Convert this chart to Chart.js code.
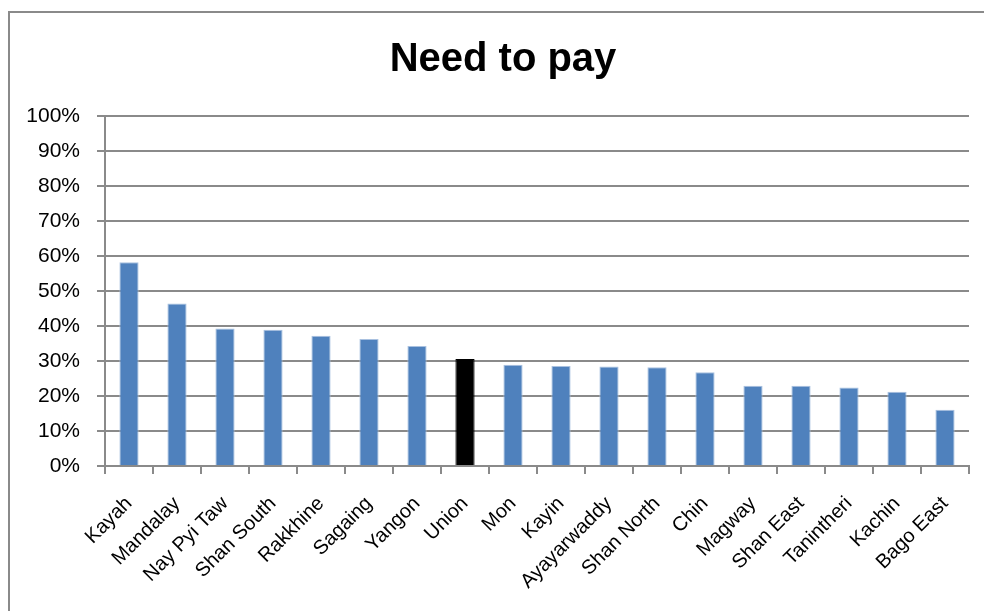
<!DOCTYPE html>
<html>
<head>
<meta charset="utf-8">
<script src="https://cdn.jsdelivr.net/npm/chart.js@4"></script>
<style>
  html, body { margin: 0; background: #fff; overflow: hidden; }
  #frame { position: absolute; left: 8px; top: 11px; width: 1000px; height: 620px; border: 2px solid #8a8a8a; }
  #wrap { position: absolute; left: 0; top: 0; width: 1006px; height: 611px; }
</style>
</head>
<body>
<div id="frame"></div>
<div id="wrap"><canvas id="chartCanvas"></canvas></div>
<script>
const regions = ["Kayah", "Mandalay", "Nay Pyi Taw", "Shan South", "Rakkhine", "Sagaing", "Yangon", "Union",
  "Mon", "Kayin", "Ayayarwaddy", "Shan North", "Chin", "Magway", "Shan East", "Tanintheri", "Kachin", "Bago East"];
const needToPay = [58.2, 46.4, 39.3, 38.9, 37.2, 36.3, 34.3, 30.6,
  28.9, 28.6, 28.4, 28.2, 26.8, 22.9, 22.9, 22.4, 21.2, 16.1];
const yTicks = [0, 10, 20, 30, 40, 50, 60, 70, 80, 90, 100];

const barColors = regions.map(r => r === "Union" ? "#000000" : "#4f81bd");
const gridGrey = "#8a8a8a";
const font = "'Liberation Sans', Arial, sans-serif";

new Chart(document.getElementById("chartCanvas"), {
  type: "bar",
  data: {
    labels: regions,
    datasets: [{
      label: "Need to pay",
      data: needToPay,
      backgroundColor: barColors,
      borderColor: regions.map(r => r === "Union" ? "#000000" : "#a9c1e0"),
      borderWidth: { top: 1, left: 1, right: 1, bottom: 0 },
      barPercentage: 0.4,
      categoryPercentage: 1
    }]
  },
  options: {
    responsive: true,
    maintainAspectRatio: false,
    animation: false,
    layout: { padding: 0 },
    plugins: {
      legend: { display: false },
      tooltip: { enabled: false },
      title: {
        display: true,
        text: "Need to pay",
        color: "#000",
        font: { family: font, size: 40, weight: "bold" },
        padding: { top: 36, bottom: 32 }
      }
    },
    scales: {
      x: {
        offset: true,
        grid: {
          offset: true,
          drawOnChartArea: false,
          color: gridGrey,
          lineWidth: 2,
          tickLength: 8
        },
        border: { color: gridGrey, width: 2 },
        ticks: {
          color: "#000",
          font: { family: font, size: 20 },
          maxRotation: 45,
          minRotation: 45,
          autoSkip: false,
          padding: 18
        },
        afterFit: s => { s.height = 145; }
      },
      y: {
        min: 0,
        max: 100,
        afterBuildTicks: s => { s.ticks = yTicks.map(v => ({ value: v })); },
        grid: {
          color: gridGrey,
          lineWidth: 2,
          tickLength: 8
        },
        border: { color: gridGrey, width: 2 },
        ticks: {
          color: "#000",
          font: { family: font, size: 21 },
          padding: 17,
          callback: v => v + "%"
        },
        afterFit: s => { s.width = 105; }
      },
      // empty right-hand axis so the plot ends at the same place as in the original
      spacer: {
        position: "right",
        grid: { display: false },
        border: { display: false },
        ticks: { display: false },
        afterFit: s => { s.width = 37; }
      }
    }
  }
});
</script>
</body>
</html>
